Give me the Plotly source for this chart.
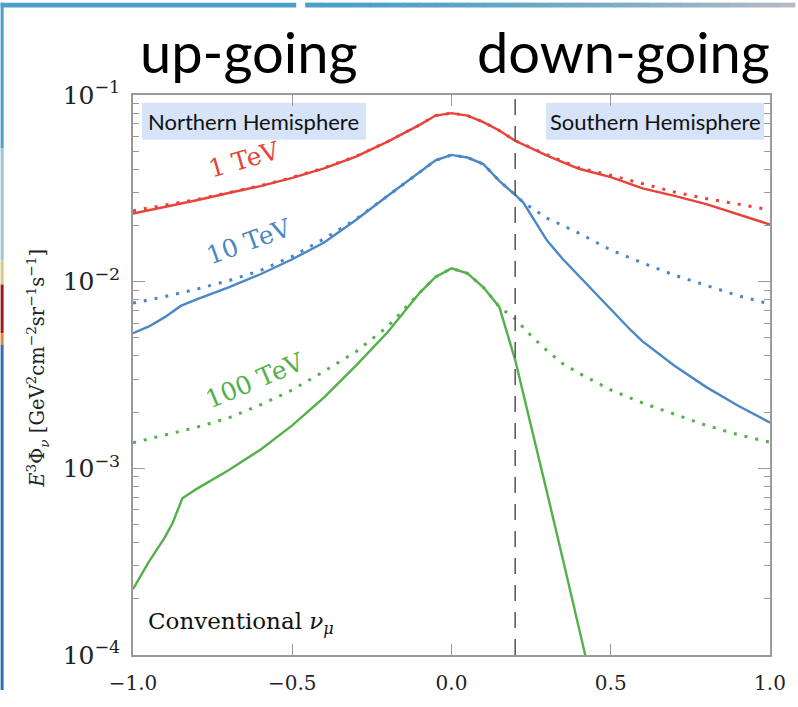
import plotly.graph_objects as go

# ---- data: E^3 * flux vs cos(zenith) for conventional muon neutrinos ----
# 1 TeV
x_1tev = [-1.0, -0.9, -0.8, -0.7, -0.6, -0.5, -0.4, -0.3, -0.2, -0.1, -0.05, 0.0, 0.05,
          0.1, 0.15, 0.2, 0.3, 0.4, 0.5, 0.6, 0.7, 0.8, 0.9, 1.0]
y_1tev = [0.02317, 0.02512, 0.02729, 0.02985, 0.03251, 0.03600, 0.04050, 0.04677, 0.05623,
          0.06918, 0.07762, 0.07998, 0.07762, 0.07161, 0.06457, 0.05689, 0.04732, 0.04027,
          0.03631, 0.03162, 0.02884, 0.02600, 0.02291, 0.02023]
x_1tev_dot = [-1.0, -0.9, -0.8, -0.7, -0.6, -0.5, -0.4, -0.3, -0.2, -0.1, -0.05, 0.0, 0.05,
              0.1, 0.15, 0.2, 0.3, 0.4, 0.5, 0.6, 0.7, 0.8, 0.9, 1.0]
y_1tev_dot = [0.02399, 0.02570, 0.02754, 0.03000, 0.03266, 0.03620, 0.04070, 0.04690, 0.05636,
              0.06918, 0.07762, 0.07998, 0.07762, 0.07161, 0.06457, 0.05689, 0.04786, 0.04074,
              0.03715, 0.03350, 0.03020, 0.02786, 0.02600, 0.02427]

# 10 TeV
x_10tev = [-1.0, -0.95, -0.9, -0.85, -0.8, -0.7, -0.6, -0.5, -0.4, -0.3, -0.2, -0.1, -0.05,
           0.0, 0.05, 0.1, 0.15, 0.2, 0.225, 0.26, 0.3, 0.35, 0.4, 0.5, 0.563, 0.6, 0.7,
           0.8, 0.9, 1.0]
y_10tev = [0.005297, 0.005754, 0.006457, 0.007413, 0.008035, 0.009333, 0.01096, 0.01318,
           0.01622, 0.02138, 0.02884, 0.03890, 0.04467, 0.04775, 0.04624, 0.04266, 0.03467,
           0.02917, 0.02661, 0.02138, 0.01660, 0.01318, 0.01072, 0.007079, 0.005495,
           0.004786, 0.003548, 0.002723, 0.002163, 0.001758]
x_10tev_dot = [-1.0, -0.9, -0.8, -0.7, -0.6, -0.5, -0.4, -0.3, -0.2, -0.1, -0.05, 0.0, 0.05,
               0.1, 0.15, 0.2, 0.225, 0.3, 0.4, 0.5, 0.6, 0.7, 0.8, 0.9, 1.0]
y_10tev_dot = [0.007674, 0.008318, 0.009120, 0.01012, 0.01148, 0.01365, 0.01698, 0.02163,
               0.02884, 0.03890, 0.04467, 0.04775, 0.04624, 0.04266, 0.03467, 0.02917,
               0.02661, 0.02188, 0.01820, 0.01479, 0.01259, 0.01084, 0.009550, 0.008414,
               0.007586]

# 100 TeV
x_100tev = [-1.0, -0.95, -0.9, -0.875, -0.845, -0.8, -0.7, -0.6, -0.5, -0.4, -0.3, -0.2,
            -0.1, -0.05, 0.0, 0.05, 0.1, 0.15, 0.2, 0.25, 0.3, 0.35, 0.4, 0.45]
y_100tev = [0.0002254, 0.0003162, 0.0004266, 0.0005129, 0.0006918, 0.0007762, 0.0009772,
            0.001259, 0.001698, 0.002399, 0.003548, 0.005370, 0.008710, 0.01059, 0.01178,
            0.01109, 0.009333, 0.007328, 0.003802, 0.001698, 0.0007413, 0.0003236,
            0.0001380, 0.00006026]
x_100tev_dot = [-1.0, -0.9, -0.8, -0.7, -0.6, -0.5, -0.4, -0.3, -0.2, -0.1, -0.05, 0.0,
                0.05, 0.1, 0.15, 0.2, 0.25, 0.3, 0.35, 0.4, 0.5, 0.6, 0.7, 0.8, 0.9, 1.0]
y_100tev_dot = [0.001371, 0.001514, 0.001660, 0.001862, 0.002188, 0.002630, 0.003311,
                0.004217, 0.005754, 0.008710, 0.01059, 0.01178, 0.01109, 0.009333,
                0.007328, 0.006310, 0.005129, 0.004266, 0.003631, 0.003236, 0.002630,
                0.002239, 0.001950, 0.001698, 0.001514, 0.001380]

energy_labels = ["1 TeV", "10 TeV", "100 TeV"]
hemisphere_labels = ["Northern Hemisphere", "Southern Hemisphere"]
x_ticks = [-1.0, -0.5, 0.0, 0.5, 1.0]
x_ticktext = ["\u22121.0", "\u22120.5", "0.0", "0.5", "1.0"]
horizon_cut = 0.2

RED, BLUE, GREEN = "#e6433a", "#4a87c6", "#54b04a"
SERIF = "DejaVu Serif"
SANS = "Lato"

# ---- figure geometry (pixels) ----
FW, FH = 798, 707
L, R, T, B = 133, 25, 95, 36
PW, PH = FW - L - R, FH - T - B


def px(x):
    return (x - L) / PW


def py(y):
    return (FH - B - y) / PH


def label(x, y, text, size, color, family, angle=0, xanchor="center"):
    fig.add_annotation(xref="paper", yref="paper", x=px(x), y=py(y), text=text,
                       showarrow=False, textangle=angle, xanchor=xanchor,
                       yanchor="middle", font=dict(family=family, size=size, color=color))


fig = go.Figure()

series = [
    (x_1tev_dot, y_1tev_dot, RED, True), (x_1tev, y_1tev, RED, False),
    (x_10tev_dot, y_10tev_dot, BLUE, True), (x_10tev, y_10tev, BLUE, False),
    (x_100tev_dot, y_100tev_dot, GREEN, True), (x_100tev, y_100tev, GREEN, False),
]
for xs, ys, col, dotted in series:
    fig.add_trace(go.Scatter(
        x=xs, y=ys, mode="lines", showlegend=False, hoverinfo="skip",
        line=dict(color=col, width=3 if dotted else 2.4,
                  dash="3px,8px" if dotted else "solid"),
    ))

# horizon separation line
fig.add_shape(type="line", xref="x", yref="paper", x0=horizon_cut, x1=horizon_cut,
              y0=0, y1=1, line=dict(color="#5e5e5e", width=1.6, dash="16px,11px"))

# hemisphere boxes
for (x0, x1), text in zip([(142, 367), (548, 767)], hemisphere_labels):
    fig.add_shape(type="rect", xref="paper", yref="paper", x0=px(x0), x1=px(x1),
                  y0=py(141), y1=py(103), fillcolor="#d6e3f8", line=dict(width=0),
                  layer="below")
    label((x0 + x1) / 2, 122, text, 22, "#111111", SANS)

# energy labels on the curves
for text, (cx, cy), ang, col in zip(energy_labels,
                                    [(245, 161), (250, 246), (256, 389)],
                                    [-16, -20, -23], [RED, BLUE, GREEN]):
    label(cx, cy, text, 25, col, SERIF, angle=ang)

label(146, 638, "Conventional <i>\u03bd</i><sub><i>\u03bc</i></sub>", 23, "#111111",
      SERIF, xanchor="left")

# y-axis title
label(37, 376, "<i>E</i><sup>3</sup>\u03a6<sub><i>\u03bd</i></sub> "
               "[GeV<sup>2</sup>cm<sup>\u22122</sup>sr<sup>\u22121</sup>s<sup>\u22121</sup>]",
      19.5, "#222222", SERIF, angle=-90)

# headings
label(250, 50, "up-going", 56, "#000000", SANS)
label(626, 50, "down-going", 56, "#000000", SANS)

# slide decoration: top bars and left edge stripe
fig.add_shape(type="rect", xref="paper", yref="paper", x0=px(0), x1=px(297),
              y0=py(5), y1=py(0), fillcolor="#4a9fc6", line=dict(width=0))
n_seg = 30
c0, c1 = (74, 160, 198), (180, 186, 198)
for i in range(n_seg):
    t = i / (n_seg - 1)
    col = "rgb(%d,%d,%d)" % tuple(round(a + (b - a) * t ** 1.6) for a, b in zip(c0, c1))
    xa = 306 + (FW - 306) * i / n_seg
    xb = 306 + (FW - 306) * (i + 1) / n_seg + 0.5
    fig.add_shape(type="rect", xref="paper", yref="paper", x0=px(xa), x1=px(xb),
                  y0=py(5), y1=py(0), fillcolor=col, line=dict(width=0))
stripe = [(0, 150, "#4aa0c8"), (150, 265, "#9cc6d2"), (265, 290, "#d8c98a"),
          (290, 340, "#9c1a1a"), (340, 352, "#d88a3a"), (352, 707, "#2f6fb2")]
for y0, y1, col in stripe:
    fig.add_shape(type="rect", xref="paper", yref="paper", x0=px(0), x1=px(3),
                  y0=py(y1), y1=py(y0), fillcolor=col, line=dict(width=0))

axis_common = dict(showline=True, linecolor="#9a9a9a", linewidth=1.5, mirror="ticks",
                   ticks="inside", tickcolor="#9a9a9a", tickwidth=1.2, showgrid=False,
                   zeroline=False, tickfont=dict(family=SERIF, size=20, color="#222222"))

fig.update_xaxes(range=[-1, 1], tickvals=x_ticks, ticktext=x_ticktext, ticklen=11,
                 ticklabelstandoff=9, **axis_common)
fig.update_yaxes(type="log", range=[-4, -1], dtick=1, exponentformat="power",
                 ticklen=12, ticklabelstandoff=7,
                 minor=dict(ticks="inside", ticklen=6, tickcolor="#9a9a9a", showgrid=False),
                 **axis_common)

fig.update_layout(width=FW, height=FH, margin=dict(l=L, r=R, t=T, b=B),
                  plot_bgcolor="white", paper_bgcolor="white")

fig.write_html("out.html")
